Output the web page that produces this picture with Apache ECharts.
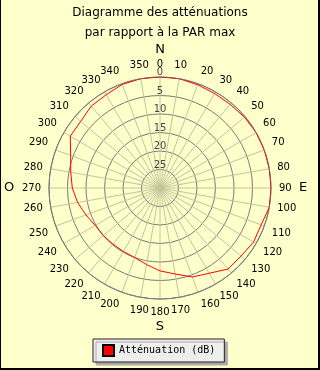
<!DOCTYPE html>
<html><head><meta charset="utf-8">
<script src="https://cdn.jsdelivr.net/npm/echarts@6/dist/echarts.min.js"></script>
<style>html,body{margin:0;padding:0;background:#FFFFCC}#c{width:320px;height:370px}</style>
</head><body><div id="c"></div>
<script>
var titleLines = ['Diagramme des atténuations', 'par rapport à la PAR max'];
var seriesName = 'Atténuation (dB)';
var angles = [0,10,20,30,40,50,60,70,80,90,100,110,120,130,140,150,160,170,180,190,200,210,220,230,240,250,260,270,280,290,300,310,320,330,340,350];
var attenuation = [0,0,0.3,0.5,0.5,0.2,0,0,0,0,0,0.9,0.8,1.4,1.4,3.4,4.4,6.4,7.6,9.0,10.0,10.2,10.2,10.0,9.8,8.7,7.4,6.3,5.5,4.3,2.0,2.0,1.1,0.9,0.2,0];
var radiusMin = 0, radiusMax = 30, radiusStep = 5;
var angleMin = 0, angleMax = 360, angleStep = 10;
var compass = [{t:'N', dx:0, dy:-138}, {t:'E', dx:143, dy:0}, {t:'S', dx:0, dy:139}, {t:'O', dx:-151, dy:0}];

var cx = 160, cy = 188, R = 111;
var data = angles.map(function(a, i){ return [attenuation[i], a]; });
data.push([attenuation[0], angles[0] + 360]);

var graphics = compass.map(function(c){
  return {type:'text', x: cx + c.dx, y: cy + c.dy,
    style:{text:c.t, fill:'#000', font:'13px "DejaVu Sans"', textAlign:'center', textVerticalAlign:'middle'}};
});
graphics.push({type:'line', shape:{x1:0.5,y1:0,x2:0.5,y2:370}, style:{stroke:'#000', lineWidth:1}});
graphics.push({type:'line', shape:{x1:319,y1:0,x2:319,y2:370}, style:{stroke:'#000', lineWidth:2}});
graphics.push({type:'line', shape:{x1:0,y1:369,x2:320,y2:369}, style:{stroke:'#000', lineWidth:2}});

var chart = echarts.init(document.getElementById('c'), null, {renderer:'canvas'});
chart.setOption({
  backgroundColor:'#FFFFCC',
  animation:false,
  title:{text: titleLines.join('\n'), left:'center', top:-2,
    textStyle:{fontFamily:'DejaVu Sans', fontSize:12, fontWeight:'normal', color:'#000', lineHeight:20}},
  polar:{center:[cx, cy], radius:R},
  angleAxis:{type:'value', min:angleMin, max:angleMax, interval:angleStep, startAngle:90, clockwise:true,
    axisLine:{show:true, lineStyle:{color:'#7a7a7a', width:1}},
    axisTick:{show:false},
    axisLabel:{show:true, margin:8, color:'#000', fontFamily:'DejaVu Sans', fontSize:10},
    splitLine:{show:true, lineStyle:{color:'#c4c49c', width:1}}},
  radiusAxis:{type:'value', min:radiusMin, max:radiusMax, interval:radiusStep, inverse:true,
    axisLine:{show:false}, axisTick:{show:false},
    axisLabel:{show:true, showMaxLabel:false, margin:0, align:'center', verticalAlign:'bottom', lineHeight:9,
      color:'#444', fontFamily:'DejaVu Sans', fontSize:10},
    splitLine:{show:true, lineStyle:{color:'#7a7a7a', width:1}}},
  legend:{data:[seriesName], left:93, top:339, orient:'horizontal',
    backgroundColor:'#EEEEEE', borderColor:'#222', borderWidth:1, padding:[5,9,5,9],
    shadowColor:'#AAAAAA', shadowBlur:0, shadowOffsetX:3, shadowOffsetY:3,
    itemWidth:11, itemHeight:11, icon:'rect',
    textStyle:{fontFamily:'DejaVu Sans Mono', fontSize:10, color:'#000'}},
  graphic: graphics,
  series:[{name:seriesName, type:'line', coordinateSystem:'polar', data:data, showSymbol:false, symbol:'none',
    lineStyle:{color:'#FF0000', width:1}, itemStyle:{color:'#FF0000', borderColor:'#000', borderWidth:1}}]
});
</script></body></html>
